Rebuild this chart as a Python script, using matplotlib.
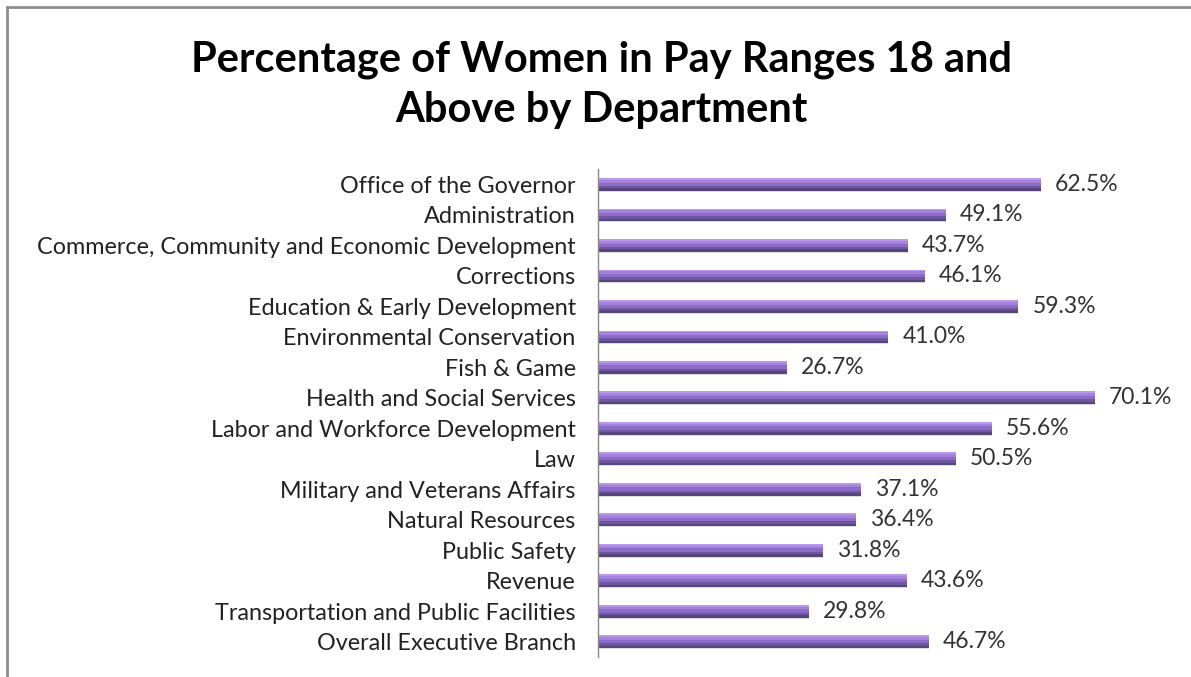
import matplotlib.pyplot as plt
from matplotlib.patches import Rectangle

departamentos = [
    "Office of the Governor",
    "Administration",
    "Commerce, Community and Economic Development",
    "Corrections",
    "Education & Early Development",
    "Environmental Conservation",
    "Fish & Game",
    "Health and Social Services",
    "Labor and Workforce Development",
    "Law",
    "Military and Veterans Affairs",
    "Natural Resources",
    "Public Safety",
    "Revenue",
    "Transportation and Public Facilities",
    "Overall Executive Branch",
]
porcentajes = [62.5, 49.1, 43.7, 46.1, 59.3, 41.0, 26.7, 70.1, 55.6, 50.5,
               37.1, 36.4, 31.8, 43.6, 29.8, 46.7]


def graficar():
    plt.rcParams['font.family'] = ['Lato', 'DejaVu Sans']
    fig = plt.figure(figsize=(11.91, 6.77), dpi=100)
    ax = fig.add_axes([0.502, 0.0295, 0.476, 0.7205])

    pos = list(range(len(departamentos)))
    alto = 0.42

    # sombra
    ax.barh([p + 0.15 for p in pos], porcentajes, height=0.18, color='#dcdcdc',
            edgecolor='none', zorder=1)
    # bandas del degradado (de abajo hacia arriba en pantalla)
    bandas = [
        (0.00, 0.20, '#55457a'),
        (0.20, 0.40, '#6d58a0'),
        (0.40, 0.65, '#8c6cc8'),
        (0.65, 0.85, '#a583dd'),
        (0.85, 1.00, '#b997ea'),
    ]
    for a, b, color in bandas:
        centro = [p + alto / 2 - alto * (a + b) / 2 for p in pos]
        ax.barh(centro, porcentajes, height=alto * (b - a), color=color,
                edgecolor='none', zorder=2)

    for p, v in zip(pos, porcentajes):
        ax.text(v + 2.0, p, f"{v:.1f}%", va='center', ha='left',
                fontsize=16.5, color='#333333')

    ax.set_xlim(0, 80)
    ax.set_ylim(len(departamentos) - 0.5, -0.5)
    ax.set_yticks(pos)
    ax.set_yticklabels(departamentos, fontsize=16.8, color='#222222')
    ax.tick_params(axis='y', length=0, pad=16)
    ax.set_xticks([])
    for lado in ['top', 'right', 'bottom']:
        ax.spines[lado].set_visible(False)
    ax.spines['left'].set_color('#888888')
    ax.spines['left'].set_linewidth(1.0)

    fig.text(0.505, 1 - 85 / 677,
             "Percentage of Women in Pay Ranges 18 and\nAbove by Department",
             ha='center', va='center', fontsize=30, fontweight='bold',
             linespacing=1.4, color='black')

    fig.patches.append(Rectangle((7 / 1191, -0.1), 1.2, 1.1 - 7 / 677,
                                 transform=fig.transFigure, fill=False,
                                 edgecolor='#8c8c8c', linewidth=2))

    fig.savefig('out.png', dpi=100)


if __name__ == "__main__":
    graficar()
